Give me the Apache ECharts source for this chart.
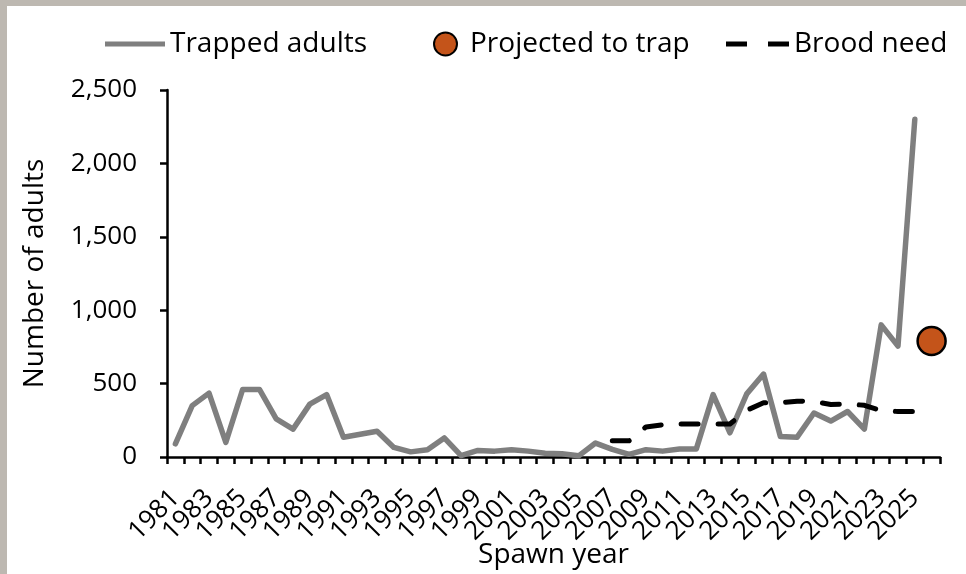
<!DOCTYPE html>
<html><head><meta charset="utf-8">
<script src="https://cdn.jsdelivr.net/npm/echarts@6/dist/echarts.min.js"></script>
<style>html,body{margin:0;padding:0;background:#bdb8b1;}#c{width:966px;height:574px;}</style>
</head><body><div id="c"></div>
<script>
const years = [];
for (let y = 1981; y <= 2026; y++) years.push(String(y));
const trappedAdults = [90,350,435,100,460,460,260,190,360,425,135,155,175,65,35,50,130,10,45,40,50,40,25,22,8,95,52,18,50,40,55,55,425,165,430,565,140,135,300,245,310,190,900,755,2300,null];
const broodNeed = [null,null,null,null,null,null,null,null,null,null,null,null,null,null,null,null,null,null,null,null,null,null,null,null,null,null,110,110,205,220,225,225,225,225,318,370,370,380,378,358,362,352,315,310,310,null];
const projected = [['2026', 790]];
const yTicks = {min: 0, max: 2500, interval: 500};

const chart = echarts.init(document.getElementById('c'));
const font = 'Open Sans';
const legText = {fontFamily: font, fontSize: 28, color: '#000'};
chart.setOption({
  backgroundColor: '#bdb8b1',
  animation: false,
  graphic: [{type:'rect', z:-100, shape:{x:7,y:6,width:966,height:574}, style:{fill:'#ffffff'}}],
  grid: {left: 167, right: 26, top: 90, bottom: 117, containLabel: false, outerBoundsMode: 'none'},
  legend: [
    {left: 100, top: 25, itemWidth: 60, itemHeight: 5,
     data: [{name:'Trapped adults', icon:'path://M0,0H60V5H0Z'}], textStyle: legText},
    {left: 428, top: 25, itemWidth: 23, itemHeight: 23,
     data: [{name:'Projected to trap', icon:'circle'}], textStyle: Object.assign({padding:[0,0,0,8]}, legText)},
    {left: 721, top: 25, itemWidth: 63, itemHeight: 5,
     data: [{name:'Brood need', icon:'path://M0,0H21V5H0Z M42,0H63V5H42Z'}], textStyle: legText}
  ],
  xAxis: {
    type: 'category', data: years, boundaryGap: true,
    name: 'Spawn year', nameLocation: 'middle', nameGap: 84, nameMoveOverlap: false,
    nameTextStyle: {fontFamily: font, fontSize: 28, color: '#000'},
    axisLine: {lineStyle: {color: '#000', width: 2.5}},
    axisTick: {show: true, length: 7, interval: 0, lineStyle: {color:'#000', width: 2.5}},
    axisLabel: {interval: 0, hideOverlap: false,
      formatter: (v, i) => (i % 2 === 0 ? v : ''),
      rotate: 45, fontFamily: font, fontSize: 26, lineHeight: 16, color: '#000', margin: 37}
  },
  yAxis: {
    type: 'value', min: yTicks.min, max: yTicks.max, interval: yTicks.interval,
    name: 'Number of adults', nameLocation: 'middle', nameGap: 118, nameMoveOverlap: false,
    nameTextStyle: {fontFamily: font, fontSize: 28, color: '#000'},
    splitLine: {show: false},
    axisLine: {show: true, lineStyle: {color: '#000', width: 2.5}},
    axisTick: {show: true, length: 7, lineStyle: {color:'#000', width: 2.5}},
    axisLabel: {fontFamily: font, fontSize: 26, color: '#000', margin: 30,
      formatter: v => v.toLocaleString('en-US')}
  },
  series: [
    {name: 'Trapped adults', type: 'line', data: trappedAdults, symbol: 'none', connectNulls: false,
     lineStyle: {color: '#7f7f7f', width: 5.5, cap: 'round', join: 'round'}, itemStyle:{color:'#7f7f7f'}, z: 3},
    {name: 'Projected to trap', type: 'scatter', data: projected, symbol: 'circle', symbolSize: 28,
     itemStyle: {color: '#c4541a', borderColor: '#000', borderWidth: 2.5, opacity: 1}, z: 5},
    {name: 'Brood need', type: 'line', data: broodNeed, symbol: 'none',
     lineStyle: {color: '#000', width: 5, type: [17, 20], cap: 'round', join: 'round'}, itemStyle:{color:'#000'}, z: 4}
  ]
});
</script></body></html>
